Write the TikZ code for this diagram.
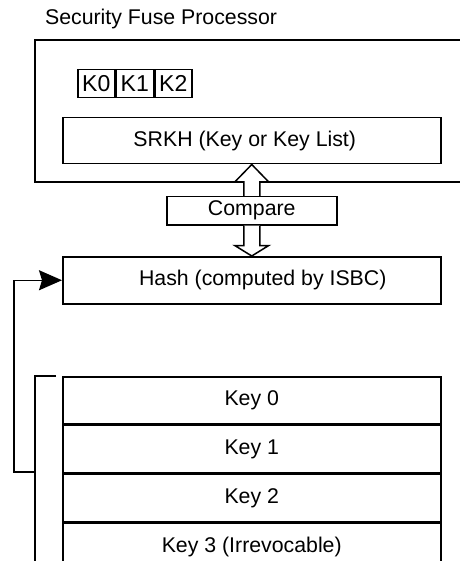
\documentclass[tikz,border=0pt]{standalone}
\usepackage{fontspec}
\setmainfont{Liberation Sans}
\usetikzlibrary{arrows.meta,calc}
\begin{document}
\begin{tikzpicture}[x=1pt,y=-1pt,line width=1.5pt,
  txt/.style={font=\fontsize{21.3}{25}\selectfont},
  box/.style={draw,txt,rectangle,inner sep=0pt,anchor=north west},
  kbox/.style={draw,font=\fontsize{23}{26}\selectfont,rectangle,inner sep=0pt,minimum width=37pt,minimum height=28pt,anchor=north west},
  keyrow/.style={box,minimum width=378pt,minimum height=47.3pt},
  fat/.style={draw,fill=white,line width=1.5pt,line join=miter}]
\useasboundingbox (0,0) rectangle (459,561);
\fill[white] (0,0) rectangle (459,561);
% title
\node[txt,anchor=west] (title) at (41,19) {Security Fuse Processor};
% outer processor box (open on the right)
\coordinate (sfpTR) at (470,40);
\coordinate (sfpBR) at (470,182);
\draw (sfpTR) -- (35,40) coordinate (sfpTL) -- (35,182) coordinate (sfpBL) -- (sfpBR);
% K boxes
\node[kbox] (k0) at (77,69) {K0};
\node[kbox] (k1) at (k0.north east) {K1};
\node[kbox] (k2) at (k1.north east) {K2};
% SRKH
\node[box,minimum width=378pt,minimum height=46pt] (srkh) at (62,117) {SRKH (Key or Key List)\hspace*{14pt}};
% Compare
\node[box,minimum width=170pt,minimum height=28pt] (cmp) at (166,196) {Compare};
% Hash
\node[box,minimum width=378pt,minimum height=47pt] (hash) at (62,256) {\hspace*{22pt}Hash (computed by ISBC)};
% hollow double arrow
\path (cmp.north) coordinate (cn) (cmp.south) coordinate (cs);
\draw[fat] ($(cn)+(8,0)$) -- ($(cn)+(8,-14)$) -- ($(cn)+(17,-14)$) -- (srkh.south)
  -- ($(cn)+(-17,-14)$) -- ($(cn)+(-8,-14)$) -- ($(cn)+(-8,0)$);
\draw[fat] ($(cs)+(-8,0)$) -- ($(cs)+(-8,20)$) -- ($(cs)+(-17,20)$) -- (hash.north)
  -- ($(cs)+(17,20)$) -- ($(cs)+(8,20)$) -- ($(cs)+(8,0)$);
% key table
\node[keyrow] (key0) at (62,376) {Key 0};
\node[keyrow] (key1) at (key0.south west) {Key 1};
\node[keyrow] (key2) at (key1.south west) {Key 2};
\node[keyrow] (key3) at (key2.south west) {Key 3 (Irrevocable)};
% bracket
\coordinate (brT) at (56,376);
\coordinate (brB) at (35,575);
\coordinate (brM) at (35,472);
\draw (brT) -- (35,376) -- (brB);
\draw[-{Stealth[length=23pt,width=20pt,inset=3pt]}] (brM) -- (14,472) |- (hash.west);
\end{tikzpicture}
\end{document}
